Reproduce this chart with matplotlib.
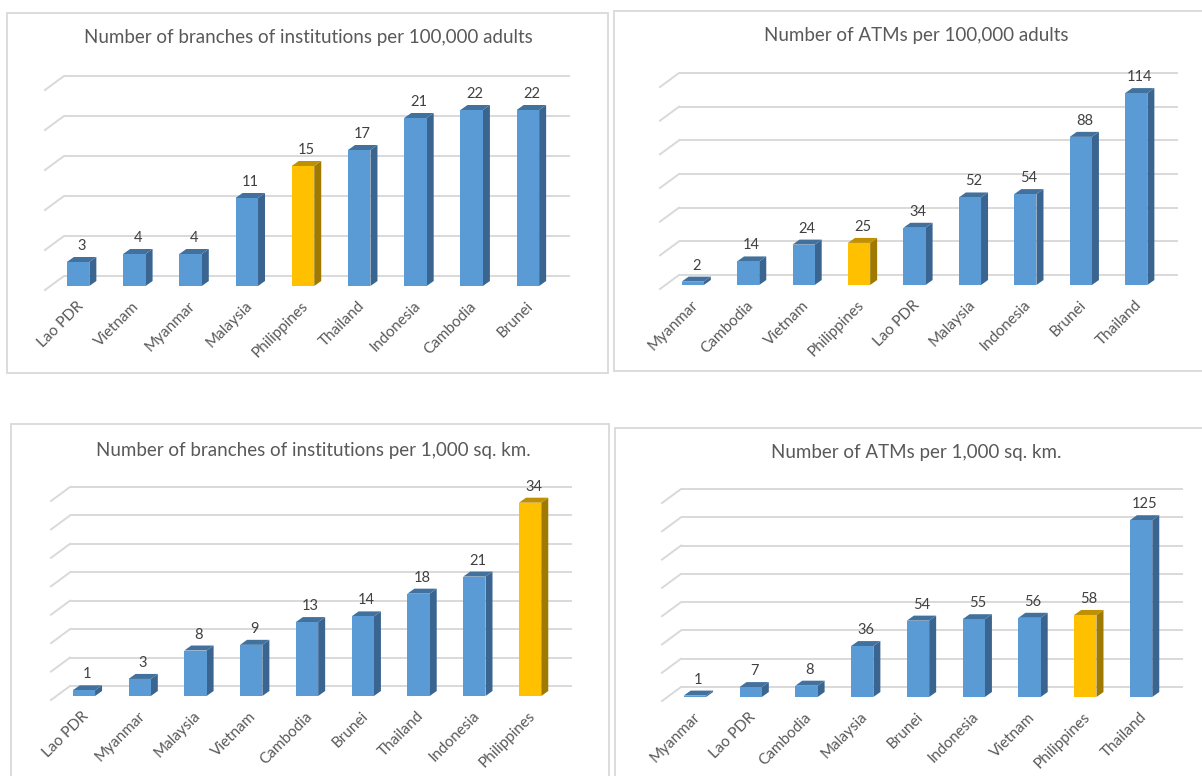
import matplotlib
matplotlib.use("Agg")
import matplotlib.pyplot as plt
from matplotlib.patches import Polygon, Rectangle

W, H = 1202, 776
DPI = 100

plt.rcParams["font.family"] = ["Lato", "DejaVu Sans"]

# --- data -------------------------------------------------------------
branches_adults_cats = ["Lao PDR", "Vietnam", "Myanmar", "Malaysia", "Philippines",
                        "Thailand", "Indonesia", "Cambodia", "Brunei"]
branches_adults_vals = [3, 4, 4, 11, 15, 17, 21, 22, 22]

atms_adults_cats = ["Myanmar", "Cambodia", "Vietnam", "Philippines", "Lao PDR",
                    "Malaysia", "Indonesia", "Brunei", "Thailand"]
atms_adults_vals = [2, 14, 24, 25, 34, 52, 54, 88, 114]

branches_area_cats = ["Lao PDR", "Myanmar", "Malaysia", "Vietnam", "Cambodia",
                      "Brunei", "Thailand", "Indonesia", "Philippines"]
branches_area_vals = [1, 3, 8, 9, 13, 14, 18, 21, 34]

atms_area_cats = ["Myanmar", "Lao PDR", "Cambodia", "Malaysia", "Brunei",
                  "Indonesia", "Vietnam", "Philippines", "Thailand"]
atms_area_vals = [1, 7, 8, 36, 54, 55, 56, 58, 125]

HIGHLIGHT = "Philippines"

# --- styling ----------------------------------------------------------
BLUE = ("#5B9BD5", "#41719C", "#3A6591")   # front, top, side
GOLD = ("#FFC000", "#C09000", "#A07A00")
GRID = "#D9D9D9"
BORDER = "#D9D9D9"
TITLE_C = "#595959"
LABEL_C = "#404040"
TICK_C = "#595959"

# pixel offsets of the pseudo-3D depth planes, relative to the bar front
FLOOR_FRONT = (-5, -4)
BAR_BACK = (7, 5)
WALL = (14, 10)
BAR_W = 0.4


def px_box(x0, y0, x1, y1):
    """Pixel box (top-left origin) -> figure fraction rect."""
    return [x0 / W, 1 - y1 / H, (x1 - x0) / W, (y1 - y0) / H]


def draw_panel(fig, frame, title, title_xy, cats, vals, ymax, step, plot):
    fx0, fy0, fx1, fy1 = frame
    fig.add_artist(Rectangle((fx0 / W, 1 - fy1 / H), (fx1 - fx0) / W, (fy1 - fy0) / H,
                             transform=fig.transFigure, facecolor="white",
                             edgecolor=BORDER, lw=1.3, zorder=0))
    fig.text(title_xy[0] / W, 1 - title_xy[1] / H, title, ha="center", va="center",
             fontsize=13.5, color=TITLE_C)

    left, right, base, hpx = plot
    n = len(cats)
    ax = fig.add_axes(px_box(left, base - hpx, right, base))
    ax.set_xlim(-0.5, n - 0.5)
    ax.set_ylim(0, ymax)
    ax.axis("off")

    pxc = (right - left) / n
    pxu = hpx / ymax
    def off(p):
        return p[0] / pxc, p[1] / pxu

    fdx, fdy = off(FLOOR_FRONT)
    wdx, wdy = off(WALL)
    bdx, bdy = off(BAR_BACK)

    # back-wall gridlines with their slanted side-wall stubs
    v = 0
    while v <= ymax + 1e-9:
        ax.plot([-0.5 + wdx, n - 0.5 + wdx], [v + wdy, v + wdy], color=GRID,
                lw=1.4, clip_on=False, zorder=1, solid_capstyle="butt")
        ax.plot([-0.5 + fdx, -0.5 + wdx], [v + fdy, v + wdy], color=GRID,
                lw=1.4, clip_on=False, zorder=1)
        v += step

    for i, (c, val) in enumerate(zip(cats, vals)):
        front, top, side = GOLD if c == HIGHLIGHT else BLUE
        xl, xr = i - BAR_W / 2, i + BAR_W / 2
        ax.add_patch(Polygon([(xr, 0), (xr + bdx, bdy), (xr + bdx, val + bdy), (xr, val)],
                             closed=True, facecolor=side, edgecolor="none",
                             clip_on=False, zorder=3))
        ax.add_patch(Polygon([(xl, val), (xr, val), (xr + bdx, val + bdy), (xl + bdx, val + bdy)],
                             closed=True, facecolor=top, edgecolor="none",
                             clip_on=False, zorder=3))
        ax.bar(i, val, width=BAR_W, color=front, edgecolor="none", zorder=4, clip_on=False)

        ax.text(i + bdx / 2, val + bdy + 4 / pxu, f"{val}", ha="center", va="bottom",
                fontsize=10.5, color=LABEL_C, zorder=5)
        ax.text(i - 2 / pxc, -13 / pxu, c, ha="right", va="top", rotation=45,
                rotation_mode="anchor", fontsize=11, color=TICK_C)
    return ax


fig = plt.figure(figsize=(W / DPI, H / DPI), dpi=DPI)
fig.patch.set_facecolor("white")

draw_panel(fig, (7, 13, 608, 373), "Number of branches of institutions per 100,000 adults",
           (308, 38), branches_adults_cats, branches_adults_vals, 25, 5,
           (50, 556, 286, 200))
draw_panel(fig, (614, 11, 1215, 371), "Number of ATMs per 100,000 adults",
           (916, 36), atms_adults_cats, atms_adults_vals, 120, 20,
           (665, 1164, 285, 202))
draw_panel(fig, (11, 424, 609, 790), "Number of branches of institutions per 1,000 sq. km.",
           (313, 450), branches_area_cats, branches_area_vals, 35, 5,
           (56, 558, 696, 199))
draw_panel(fig, (615, 428, 1215, 790), "Number of ATMs per 1,000 sq. km.",
           (916, 452), atms_area_cats, atms_area_vals, 140, 20,
           (667, 1169, 697, 198))

fig.savefig("out.png", dpi=DPI)
